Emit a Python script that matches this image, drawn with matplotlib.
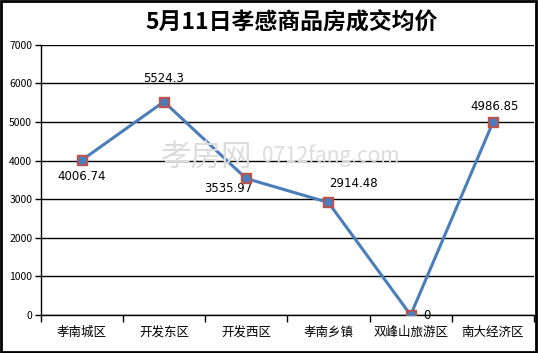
import matplotlib.pyplot as plt
from matplotlib.patches import Rectangle

plt.rcParams['font.family'] = ['Noto Sans CJK SC', 'DejaVu Sans']

categories = ['孝南城区', '开发东区', '开发西区', '孝南乡镇', '双峰山旅游区', '南大经济区']
prices = [4006.74, 5524.3, 3535.97, 2914.48, 0, 4986.85]
labels = ['4006.74', '5524.3', '3535.97', '2914.48', '0', '4986.85']
# label offsets in points (dx, dy)
offsets = [(0, -11.5), (0, 16.5), (-13, -7.5), (18, 13.5), (11.5, 0), (1.5, 11.5)]

fig = plt.figure(figsize=(5.38, 3.53), dpi=100)
ax = fig.add_axes([0.0753, 0.1076, 0.9173, 0.7657])

x = list(range(len(categories)))
ax.plot(x, prices, color='#4A7EBB', linewidth=2.2, zorder=3)
ax.scatter(x, prices, marker='s', s=42, color='#C0504D', zorder=4)
ax.scatter(x, prices, marker='o', s=25, color='#4A7EBB', zorder=5)

for xi, v, t, (dx, dy) in zip(x, prices, labels, offsets):
    ax.annotate(t, (xi, v), xytext=(dx, dy), textcoords='offset points',
                ha='center', va='center', fontsize=8.5, family='DejaVu Sans')

ax.set_xlim(-0.5, len(categories) - 0.5)
ax.set_ylim(0, 7000)
ax.set_yticks(range(0, 7001, 1000))
ax.tick_params(axis='y', labelsize=7.5, length=4, direction='out', width=1, pad=2)
ax.set_xticks(x)
ax.set_xticklabels(categories, fontsize=9)
ax.set_xticks([i - 0.5 for i in range(len(categories) + 1)], minor=True)
ax.tick_params(axis='x', which='major', length=0, pad=8)
ax.tick_params(axis='x', which='minor', length=5, width=1, direction='out')
ax.grid(axis='y', color='black', linewidth=1)
ax.set_axisbelow(True)
for s in ['top', 'right']:
    ax.spines[s].set_visible(False)
for s in ['left', 'bottom']:
    ax.spines[s].set_color('black')
    ax.spines[s].set_linewidth(1)

# watermark
fig.text(0.385, 0.555, '孝房网', fontsize=22, color='#dcdcdc',
         ha='center', va='center', zorder=1)
fig.text(0.615, 0.56, '0712fang.com', fontsize=15, color='#dcdcdc',
         ha='center', va='center', zorder=1)

fig.text(0.543, 0.937, '5月11日孝感商品房成交均价', fontsize=16.5,
         fontweight='bold', ha='center', va='center')

fig.patches.append(Rectangle((0.002, 0.003), 0.995, 0.994, transform=fig.transFigure,
                             fill=False, edgecolor='black', linewidth=2))

fig.savefig('out.png', dpi=100)
